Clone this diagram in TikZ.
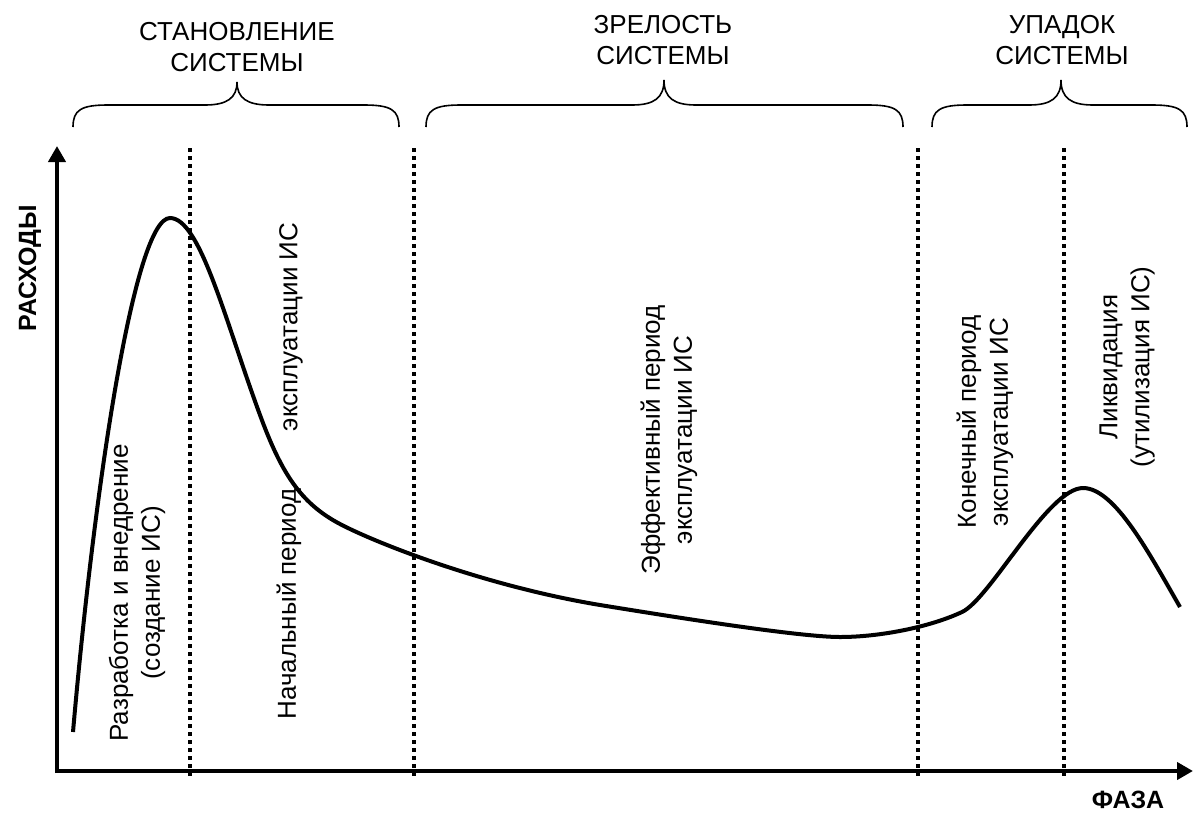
\documentclass[tikz,border=0pt]{standalone}
\usepackage{fontspec}
\setmainfont{Liberation Sans}
\usetikzlibrary{arrows.meta}
\begin{document}
\begin{tikzpicture}[x=0.5pt,y=-0.5pt,
  axis/.style={line width=2pt,-{Triangle[length=8pt,width=8.5pt]}},
  sep/.style={line width=2pt,dash pattern=on 2pt off 2pt},
  brace/.style={line width=0.8pt},
  curve/.style={line width=2pt},
  head/.style={align=center,font=\fontsize{13}{15.5}\selectfont,inner sep=0pt},
  vlab/.style={align=center,rotate=90,font=\fontsize{13}{16}\selectfont,inner sep=0pt},
  axlab/.style={font=\bfseries\fontsize{12.5}{15}\selectfont,inner sep=0pt}]
\useasboundingbox (0,0) rectangle (1193,814);
% axes
\coordinate (o) at (57,771);
\coordinate (ytop) at (57,146);
\coordinate (xend) at (1193,771);
\draw[axis] ([yshift=-1pt]o) -- (ytop);
\draw[axis] ([xshift=-1pt]o) -- (xend);
% separators
\foreach \n/\x in {s1/190,s2/414,s3/918,s4/1064}{
  \coordinate (\n t) at (\x,148);
  \coordinate (\n b) at (\x,776);
  \draw[sep] (\n t) -- (\n b);
}
% braces
\foreach \L/\M/\R/\Y in {73/237/399/82, 426/664/903/80, 932/1061/1187/80}{
  \draw[brace] (\L,127) .. controls (\L,110) and (\L+8,105) .. (\L+35,105)
    -- (\M-32,105) .. controls (\M-10,105) and (\M,98) .. (\M,\Y)
    .. controls (\M,98) and (\M+10,105) .. (\M+32,105)
    -- (\R-35,105) .. controls (\R-8,105) and (\R,110) .. (\R,127);
}
% headers
\node[head] (h1) at (237,47) {СТАНОВЛЕНИЕ\\СИСТЕМЫ};
\node[head] (h2) at (663,40) {ЗРЕЛОСТЬ\\СИСТЕМЫ};
\node[head] (h3) at (1062,40) {УПАДОК\\СИСТЕМЫ};
% axis labels
\node[axlab,rotate=90] (ylab) at (30,268) {РАСХОДЫ};
\node[axlab] (xlab) at (1128,800) {ФАЗА};
% vertical labels
\node[vlab] (t1) at (137,593) {Разработка и внедрение\\(создание ИС)};
\node[vlab] (t2a) at (289,604) {Начальный период};
\node[vlab] (t2b) at (291,327) {эксплуатации ИС};
\node[vlab] (t3) at (669,440) {Эффективный период\\эксплуатации ИС};
\node[vlab] (t4) at (985,422) {Конечный период\\эксплуатации ИС};
\node[vlab] (t5) at (1127,367) {Ликвидация\\(утилизация ИС)};
% curve
\draw[curve] (73,732) .. controls (95,480) and (135,218) .. (170,218)
  .. controls (200,218) and (225,320) .. (260,415)
  .. controls (281,472) and (300,503) .. (340,524)
  .. controls (372,541) and (480,585) .. (600,605)
  .. controls (680,618) and (800,637) .. (840,637)
  .. controls (880,637) and (930,627) .. (962,612)
  .. controls (990,599) and (1048,488) .. (1083,488)
  .. controls (1115,488) and (1150,555) .. (1180,607);
\end{tikzpicture}
\end{document}
